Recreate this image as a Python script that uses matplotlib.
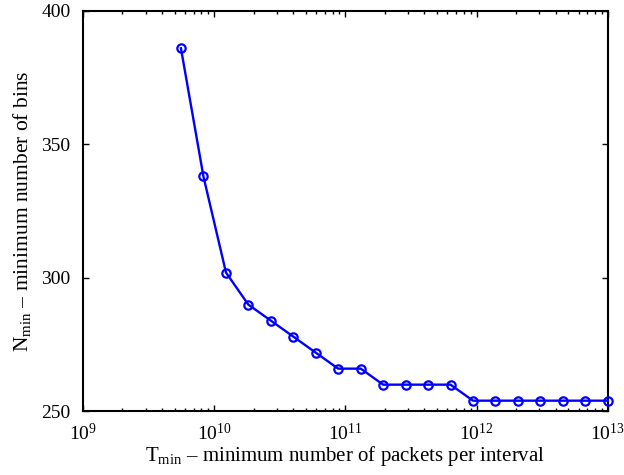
import numpy as np
import matplotlib
matplotlib.use("Agg")
import matplotlib.pyplot as plt

plt.rcParams['font.family'] = ['Liberation Serif', 'DejaVu Serif']
plt.rcParams['mathtext.fontset'] = 'custom'
plt.rcParams['mathtext.rm'] = 'Liberation Serif'
plt.rcParams['mathtext.it'] = 'Liberation Serif:italic'

# T_min values
t_min = [5.58e9, 8.28e9, 1.23e10, 1.82e10, 2.70e10, 4.01e10, 5.94e10, 8.81e10,
         1.31e11, 1.94e11, 2.88e11, 4.27e11, 6.33e11, 9.39e11, 1.39e12, 2.07e12,
         3.06e12, 4.54e12, 6.74e12, 1.0e13]
# N_min values
n_min = [386, 338, 302, 290, 284, 278, 272, 266, 266, 260, 260, 260, 260,
         254, 254, 254, 254, 254, 254, 254]

fig = plt.figure(figsize=(6.24, 4.75), dpi=100)
ax = fig.add_axes([0.133, 0.134, 0.841, 0.843])

ax.plot(t_min, n_min, '-o', color='#0000ff', lw=1.7, markersize=6,
        markerfacecolor='none', markeredgewidth=1.6, clip_on=False, zorder=5)

ax.set_xscale('log')
ax.set_xlim(1e9, 1e13)
ax.set_ylim(250, 400)
ax.set_yticks([250, 300, 350, 400])

ax.tick_params(which='both', direction='in', top=True, right=True, labelsize=14, width=1)
ax.tick_params(which='major', length=4)
ax.tick_params(which='minor', length=2.5)
ax.tick_params(axis='x', pad=8.5)
ax.tick_params(axis='y', pad=9)
for s in ax.spines.values():
    s.set_linewidth(1.5)

ax.set_xlabel(r'$\mathregular{T_{min}}$ – minimum number of packets per interval', fontsize=15, labelpad=0)
ax.set_ylabel(r'$\mathregular{N_{min}}$ – minimum number of bins', fontsize=15.5, labelpad=6)

fig.savefig('out.png', dpi=100)
